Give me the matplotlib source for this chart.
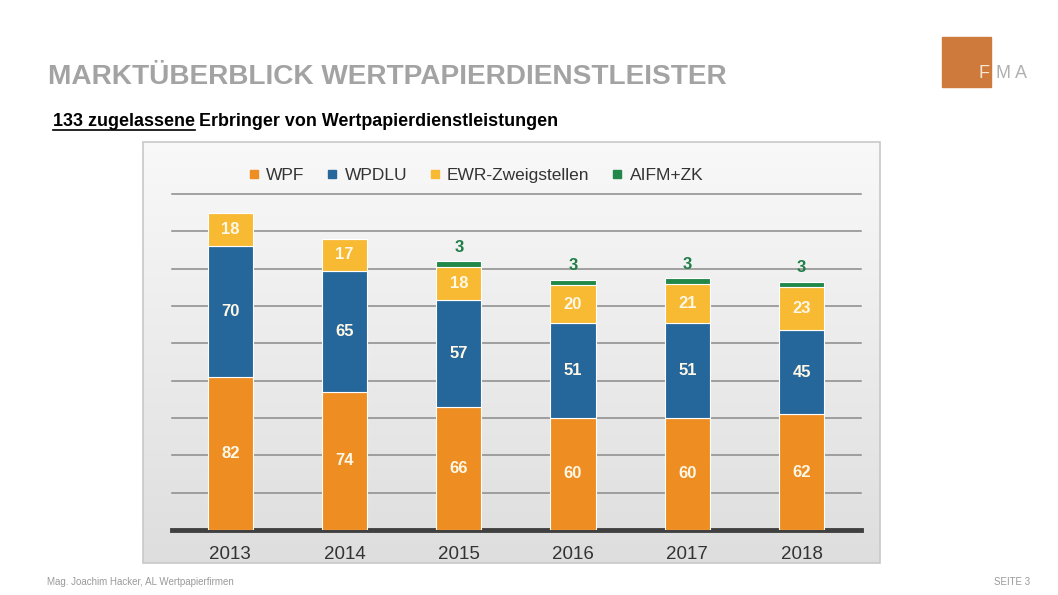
import matplotlib.pyplot as plt
import numpy as np
from matplotlib.patches import Rectangle
from matplotlib.lines import Line2D

plt.rcParams['font.family'] = ['Liberation Sans', 'DejaVu Sans']

# Daten
jahre = ['2013', '2014', '2015', '2016', '2017', '2018']
wpf = [82, 74, 66, 60, 60, 62]
wpdlu = [70, 65, 57, 51, 51, 45]
ewr = [18, 17, 18, 20, 21, 23]
aifm = [0, 0, 3, 3, 3, 3]

serien = ['WPF', 'WPDLU', 'EWR-Zweigstellen', 'AIFM+ZK']
farben = ['#EE8D22', '#25679A', '#F8B933', '#22884A']

W, H = 1058, 595
fig = plt.figure(figsize=(W / 100, H / 100), dpi=100)
fig.patch.set_facecolor('white')

# Hintergrund-Achse in Pixelkoordinaten
bg = fig.add_axes([0, 0, 1, 1], zorder=0)
bg.set_xlim(0, W)
bg.set_ylim(H, 0)
bg.axis('off')

# Panel mit Verlauf
grad = np.linspace(0.975, 0.87, 256).reshape(-1, 1)
bg.imshow(np.dstack([grad, grad, grad]), extent=(143, 880, 563, 142),
          aspect='auto', zorder=1)
bg.add_patch(Rectangle((143, 142), 737, 421, fill=False, edgecolor='#c8c8c8', lw=1.2, zorder=2))

# Titel
bg.text(48, 77, 'MARKTÜBERBLICK WERTPAPIERDIENSTLEISTER', fontsize=20.2, fontweight='bold',
        color='#a3a3a3', va='center', ha='left')
t1 = bg.text(53, 121, '133 zugelassene', fontsize=12.9, fontweight='bold', color='black',
             va='center', ha='left')
fig.canvas.draw()
bb = t1.get_window_extent()
inv = bg.transData.inverted()
(x0, _), (x1, _) = inv.transform([[bb.x0, bb.y0], [bb.x1, bb.y0]])
bg.text(x1 + 4, 121, 'Erbringer von Wertpapierdienstleistungen', fontsize=12.9,
        fontweight='bold', color='black', va='center', ha='left')
bg.plot([x0, x1], [130, 130], color='black', lw=1.2)

# Logo
bg.add_patch(Rectangle((942, 37), 49, 50, color='#CD7A3C', zorder=3))
bg.text(984, 74, 'F', fontsize=13, color='#f6e6d2', ha='center', va='center', zorder=4)
bg.text(1003, 74, 'M', fontsize=13, color='#b0b0b0', ha='center', va='center', zorder=4)
bg.text(1021, 74, 'A', fontsize=13, color='#b0b0b0', ha='center', va='center', zorder=4)

# Fusszeile
bg.text(47, 582, 'Mag. Joachim Hacker, AL Wertpapierfirmen', fontsize=7, color='#9a9a9a',
        va='center', ha='left')
bg.text(1030, 582, 'SEITE 3', fontsize=7, color='#9a9a9a', va='center', ha='right')

# Diagramm-Achse
ax = fig.add_axes([172 / W, (H - 530) / H, 689 / W, 336 / H], zorder=2)
ax.patch.set_alpha(0)
x = np.arange(len(jahre))
breite = 0.395
unten = np.zeros(len(jahre))
for werte, farbe in zip([wpf, wpdlu, ewr, aifm], farben):
    werte = np.array(werte)
    ax.bar(x, werte, breite, bottom=unten, color=farbe, edgecolor='white', linewidth=0.8,
           zorder=3)
    mitte = unten + werte / 2
    if farbe != farben[3]:
        for xi, m, v in zip(x, mitte, werte):
            ax.text(xi, m, str(v), ha='center', va='center', fontsize=12, fontweight='bold',
                    color='#fff8e6', zorder=4)
    else:
        for xi, u, v in zip(x, unten, werte):
            if v > 0:
                ax.annotate(str(v), (xi, u + v), xytext=(0, 10), textcoords='offset points',
                            ha='center', va='center', fontsize=12, fontweight='bold',
                            color='#1E7D46', zorder=4)
    unten = unten + werte

ax.set_ylim(0, 180)
ax.set_xlim(-0.51, 5.52)
for yv in np.arange(20, 181, 20):
    ax.axhline(yv, color='#8a8a8a', lw=1.1, zorder=0, clip_on=False)
ax.tick_params(axis='y', left=False, labelleft=False)
ax.tick_params(axis='x', bottom=False, labelsize=13.5, labelcolor='#333333', pad=8)
ax.set_xticks(x)
ax.set_xticklabels(jahre)
for s in ['top', 'right', 'left']:
    ax.spines[s].set_visible(False)
ax.spines['bottom'].set_color('#404040')
ax.spines['bottom'].set_linewidth(3.5)

# Legende
handles = [Line2D([], [], marker='s', linestyle='', markersize=6, color=f) for f in farben]
fig.legend(handles, serien, loc='center', bbox_to_anchor=(476 / W, 1 - 175 / H), ncol=4,
           frameon=False, fontsize=12.5, handlelength=0.6, handletextpad=0.4,
           columnspacing=1.3, labelcolor='#333333')

fig.savefig('out.png', dpi=100)
